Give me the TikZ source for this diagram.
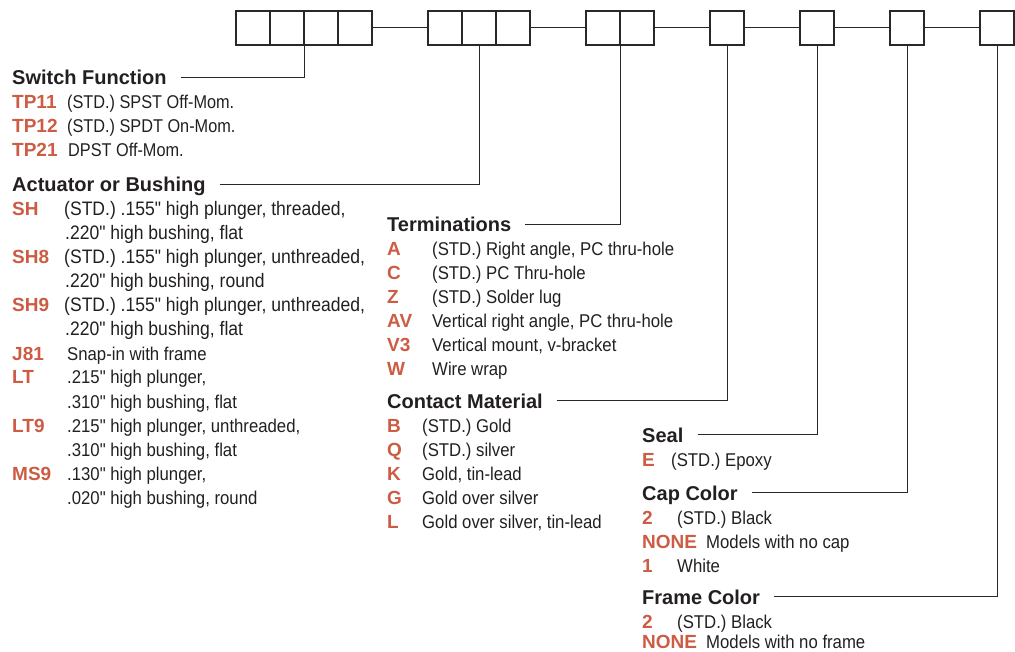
\documentclass[tikz,border=0pt]{standalone}
\usepackage{fontspec}
\setmainfont{Liberation Sans}
\newfontfamily\bodyfam[FakeStretch=0.88]{Liberation Sans}
\newfontfamily\bodyfamB[FakeStretch=0.905]{Liberation Sans}
\newfontfamily\bodyfamC[FakeStretch=0.90]{Liberation Sans}
\usetikzlibrary{calc}
\definecolor{codered}{RGB}{204,92,68}
\definecolor{txt}{RGB}{35,31,32}
\definecolor{linec}{RGB}{40,40,40}
\tikzset{
  cell/.style={draw=linec, line width=1.1pt, minimum width=34pt, minimum height=34pt, inner sep=0pt},
  conn/.style={draw=linec, line width=1pt},
  lead/.style={draw=linec, line width=0.9pt},
  hdr/.style={anchor=base west, inner sep=0pt, text=txt, font=\fontsize{20}{24}\selectfont\bfseries},
  code/.style={anchor=base west, inner sep=0pt, text=codered, font=\fontsize{19}{23}\selectfont\bfseries},
  desc/.style={anchor=base west, inner sep=0pt, text=txt, font=\bodyfam\fontsize{18.5}{22}\selectfont},
  descb/.style={anchor=base west, inner sep=0pt, text=txt, font=\bodyfamB\fontsize{18.5}{22}\selectfont},
  descc/.style={anchor=base west, inner sep=0pt, text=txt, font=\bodyfamC\fontsize{19.5}{23}\selectfont}
}
\begin{document}
\begin{tikzpicture}[x=1pt,y=-1pt]
\useasboundingbox (0,0) rectangle (1015,652);
% code boxes
\node[cell] (b1) at (253,28) {};
\node[cell] (b2) at (287,28) {};
\node[cell] (b3) at (321,28) {};
\node[cell] (b4) at (355,28) {};
\node[cell] (b5) at (445,28) {};
\node[cell] (b6) at (479,28) {};
\node[cell] (b7) at (513,28) {};
\node[cell] (b8) at (603,28) {};
\node[cell] (b9) at (637,28) {};
\node[cell] (b10) at (727,28) {};
\node[cell] (b11) at (817,28) {};
\node[cell] (b12) at (907,28) {};
\node[cell] (b13) at (997,28) {};
\draw[conn] (b4.east) -- (b5.west);
\draw[conn] (b7.east) -- (b8.west);
\draw[conn] (b9.east) -- (b10.west);
\draw[conn] (b10.east) -- (b11.west);
\draw[conn] (b11.east) -- (b12.west);
\draw[conn] (b12.east) -- (b13.west);

% Switch Function
\node[hdr] (h1) at (12,85) {Switch Function};
\node[code] (c11) at (12,109) {TP11};
\node[desc] (d11) at (67,109) {(STD.) SPST Off-Mom.};
\node[code] (c12) at (12,133) {TP12};
\node[desc] (d12) at (67,133) {(STD.) SPDT On-Mom.};
\node[code] (c13) at (12,157) {TP21};
\node[desc] (d13) at (68,157) {DPST Off-Mom.};
\draw[lead] ($(h1.base east)+(14,-8)$) -| (b2.south east);

% Actuator or Bushing
\node[hdr] (h2) at (12,192) {Actuator or Bushing};
\node[code] (c21) at (12,216) {SH};
\node[descc] (d21) at (64,216) {(STD.) .155" high plunger, threaded,};
\node[descc] (d21b) at (65,240) {.220" high bushing, flat};
\node[code] (c22) at (12,264) {SH8};
\node[descc] (d22) at (64,264) {(STD.) .155" high plunger, unthreaded,};
\node[descc] (d22b) at (65,288) {.220" high bushing, round};
\node[code] (c23) at (12,312) {SH9};
\node[descc] (d23) at (64,312) {(STD.) .155" high plunger, unthreaded,};
\node[descc] (d23b) at (65,336) {.220" high bushing, flat};
\node[code] (c24) at (12,360) {J81};
\node[descb] (d24) at (67,360) {Snap-in with frame};
\node[code] (c25) at (12,384) {LT};
\node[descb] (d25) at (67,384) {.215" high plunger,};
\node[descb] (d25b) at (67,408) {.310" high bushing, flat};
\node[code] (c26) at (12,432) {LT9};
\node[descb] (d26) at (67,432) {.215" high plunger, unthreaded,};
\node[descb] (d26b) at (67,456) {.310" high bushing, flat};
\node[code] (c27) at (12,480) {MS9};
\node[descb] (d27) at (67,480) {.130" high plunger,};
\node[descb] (d27b) at (67,504) {.020" high bushing, round};
\draw[lead] ($(h2.base east)+(14,-8)$) -| (b6.south);

% Terminations
\node[hdr] (h3) at (387,232) {Terminations};
\node[code] (c31) at (387,256) {A};
\node[descb] (d31) at (432,256) {(STD.) Right angle, PC thru-hole};
\node[code] (c32) at (387,280) {C};
\node[descb] (d32) at (432,280) {(STD.) PC Thru-hole};
\node[code] (c33) at (387,304) {Z};
\node[descb] (d33) at (432,304) {(STD.) Solder lug};
\node[code] (c34) at (387,328) {AV};
\node[descb] (d34) at (432,328) {Vertical right angle, PC thru-hole};
\node[code] (c35) at (387,352) {V3};
\node[descb] (d35) at (432,352) {Vertical mount, v-bracket};
\node[code] (c36) at (387,376) {W};
\node[descb] (d36) at (432,376) {Wire wrap};
\draw[lead] ($(h3.base east)+(14,-8)$) -| (b8.south east);

% Contact Material
\node[hdr] (h4) at (387,408) {Contact Material};
\node[code] (c41) at (387,432) {B};
\node[descb] (d41) at (422,432) {(STD.) Gold};
\node[code] (c42) at (387,456) {Q};
\node[descb] (d42) at (422,456) {(STD.) silver};
\node[code] (c43) at (387,480) {K};
\node[descb] (d43) at (422,480) {Gold, tin-lead};
\node[code] (c44) at (387,504) {G};
\node[descb] (d44) at (422,504) {Gold over silver};
\node[code] (c45) at (387,528) {L};
\node[descb] (d45) at (422,528) {Gold over silver, tin-lead};
\draw[lead] ($(h4.base east)+(14,-8)$) -| (b10.south);

% Seal
\node[hdr] (h5) at (642,442) {Seal};
\node[code] (c51) at (642,466) {E};
\node[descb] (d51) at (671,466) {(STD.) Epoxy};
\draw[lead] ($(h5.base east)+(14,-8)$) -| (b11.south);

% Cap Color
\node[hdr] (h6) at (642,500) {Cap Color};
\node[code] (c61) at (642,524) {2};
\node[descb] (d61) at (677,524) {(STD.) Black};
\node[code] (c62) at (642,548) {NONE};
\node[descb] (d62) at (706,548) {Models with no cap};
\node[code] (c63) at (642,572) {1};
\node[descb] (d63) at (677,572) {White};
\draw[lead] ($(h6.base east)+(14,-8)$) -| (b12.south);

% Frame Color
\node[hdr] (h7) at (642,604) {Frame Color};
\node[code] (c71) at (642,628) {2};
\node[descb] (d71) at (677,628) {(STD.) Black};
\node[code] (c72) at (642,648) {NONE};
\node[descb] (d72) at (706,648) {Models with no frame};
\draw[lead] ($(h7.base east)+(14,-8)$) -| (b13.south);
\end{tikzpicture}
\end{document}
